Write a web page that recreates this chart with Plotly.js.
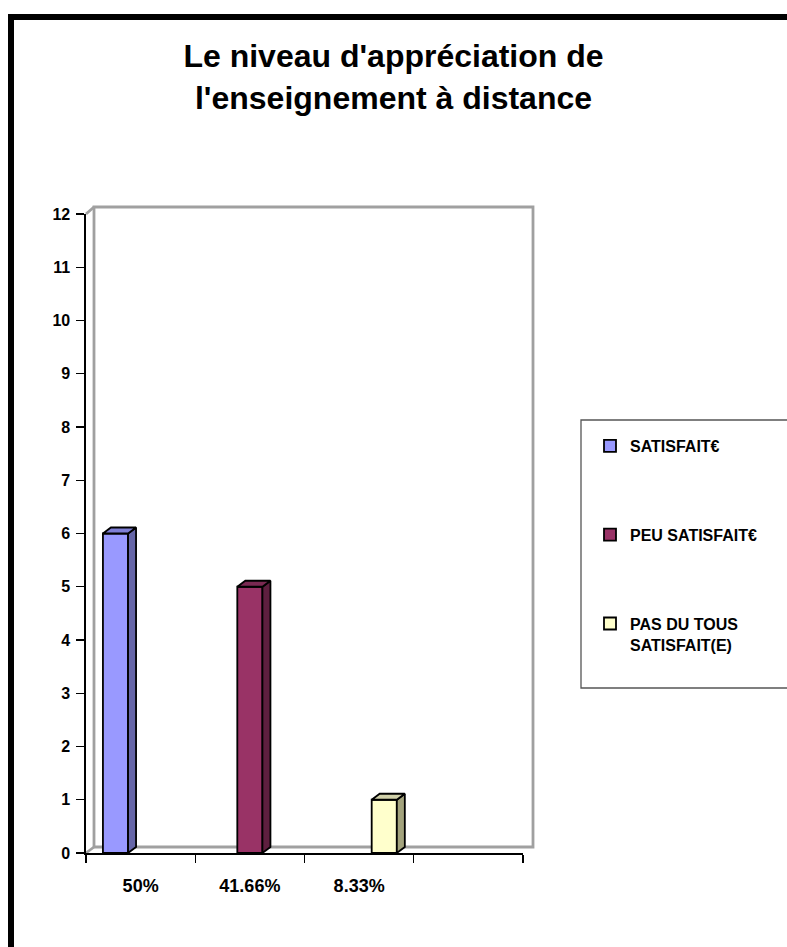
<!DOCTYPE html>
<html>
<head>
<meta charset="utf-8">
<script src="https://cdn.plot.ly/plotly-3.0.1.min.js"></script>
<style>
  html, body { margin:0; padding:0; background:#fff; overflow:hidden; }
  #wrap { position:relative; width:787px; height:947px; }
  #chart { position:absolute; left:0; top:0; width:787px; height:947px; }
  #frame { position:absolute; left:8px; top:14px; width:900px; height:1000px;
           border-left:6px solid #000; border-top:6px solid #000; pointer-events:none; }
</style>
</head>
<body>
<div id="wrap"><div id="chart"></div><div id="frame"></div></div>
<script>
// ---- data ----
const categories = ["50%", "41.66%", "8.33%", " "];
const seriesNames = ["SATISFAIT€", "PEU SATISFAIT€", "PAS DU TOUS<br>SATISFAIT(E)"];
const satisfait    = [6, null, null, null];
const peuSatisfait = [null, 5, null, null];
const pasDuTout    = [null, null, 1, null];
const yTicks = [0,1,2,3,4,5,6,7,8,9,10,11,12];
const chartTitle = "Le niveau d'appréciation de<br>l'enseignement à distance";

// ---- styling ----
const seriesValues = [satisfait, peuSatisfait, pasDuTout];
const frontColors = ["#9999FF", "#993366", "#FFFFCC"];
const sideColors  = ["#6666A8", "#5E1F3F", "#A3A37D"];
const topColors   = ["#7F7FD6", "#7A2952", "#D1D1AA"];

const W = 787, H = 947;
const M = {l:86, r:264, t:214, b:94};
const plotW = W - M.l - M.r, plotH = H - M.t - M.b;
const px = v => (v - M.l) / plotW;
const py = v => (H - M.b - v) / plotH;

const bargap = 0.31;
const nSeries = seriesValues.length;
const barW = (1 - bargap) / nSeries;
const yMax = 12;
const depthX = 8 / (plotW / categories.length);   // 8 px in category units
const depthY = 6 / (plotH / yMax);                // 6 px in value units

const traces = [];
seriesValues.forEach((vals, k) => {
  traces.push({
    type: 'bar', name: seriesNames[k], x: categories, y: vals,
    marker: {color: frontColors[k], line: {color: '#000', width: 1.8}},
    legendgroup: 'g' + k, hoverinfo: 'skip'
  });
});
// 3D faces (side & top) computed from the same values
seriesValues.forEach((vals, k) => {
  vals.forEach((v, i) => {
    if (v === null || v === undefined) return;
    const c = i + (k - (nSeries - 1) / 2) * barW;
    const xl = c - barW / 2, xr = c + barW / 2;
    traces.push({
      type: 'scatter', mode: 'lines', xaxis: 'x2', yaxis: 'y',
      x: [xr, xr + depthX, xr + depthX, xr, xr],
      y: [0, depthY, v + depthY, v, 0],
      fill: 'toself', fillcolor: sideColors[k],
      line: {color: '#000', width: 1.8}, showlegend: false, hoverinfo: 'skip'
    });
    traces.push({
      type: 'scatter', mode: 'lines', xaxis: 'x2', yaxis: 'y',
      x: [xl, xl + depthX, xr + depthX, xr, xl],
      y: [v, v + depthY, v + depthY, v, v],
      fill: 'toself', fillcolor: topColors[k],
      line: {color: '#000', width: 1.8}, showlegend: false, hoverinfo: 'skip'
    });
  });
});

const wallColor = '#A0A0A0';
const shapes = [
  {type:'rect', xref:'paper', yref:'paper', x0:px(94), x1:px(533), y0:py(847), y1:py(207),
   line:{color:wallColor, width:2.8}, fillcolor:'rgba(0,0,0,0)', layer:'below'},
  {type:'line', xref:'paper', yref:'paper', x0:px(86), y0:py(214), x1:px(94), y1:py(207),
   line:{color:wallColor, width:2.8}, layer:'below'},
  {type:'line', xref:'paper', yref:'paper', x0:px(86), y0:py(853), x1:px(94), y1:py(847),
   line:{color:wallColor, width:2.8}, layer:'below'},
  // legend box
  {type:'rect', xref:'paper', yref:'paper', x0:px(581), x1:px(810), y0:py(688), y1:py(420),
   line:{color:'#555', width:1.3}, fillcolor:'rgba(0,0,0,0)'}
];

const font = 'Liberation Sans, Arial, sans-serif';
const layout = {
  width: W, height: H,
  margin: M,
  paper_bgcolor: '#fff', plot_bgcolor: 'rgba(0,0,0,0)',
  barmode: 'group', bargap: bargap, bargroupgap: 0,
  title: {
    text: chartTitle, x: 0.5, xref: 'container', xanchor: 'center',
    y: 1 - 67 / H, yref: 'container', yanchor: 'middle',
    font: {family: font, size: 32, weight: 'bold', color: '#000'}
  },
  xaxis: {
    type: 'category', categoryorder: 'array', categoryarray: categories,
    range: [-0.5, categories.length - 0.5],
    showline: true, linecolor: '#000', linewidth: 1.6,
    ticks: 'outside', tickson: 'boundaries', ticklen: 8, tickcolor: '#000', tickwidth: 1.3,
    showgrid: false, zeroline: false, ticklabelstandoff: 16,
    tickfont: {family: font, size: 18, weight: 'bold', color: '#000'}
  },
  xaxis2: {
    type: 'linear', overlaying: 'x', anchor: 'y',
    range: [-0.5, categories.length - 0.5], visible: false
  },
  yaxis: {
    range: [0, yMax], tickvals: yTicks,
    showline: true, linecolor: '#000', linewidth: 1.6,
    ticks: 'outside', ticklen: 8, tickcolor: '#000', tickwidth: 1.3,
    showgrid: false, zeroline: false, ticklabelstandoff: 3,
    tickfont: {family: font, size: 16, weight: 'bold', color: '#000'}
  },
  showlegend: true,
  legend: {
    x: px(590), xanchor: 'left', y: py(429), yanchor: 'top',
    xref: 'paper', yref: 'paper',
    bgcolor: 'rgba(0,0,0,0)', borderwidth: 0,
    traceorder: 'grouped', tracegroupgap: 65, valign: 'top', itemwidth: 30,
    font: {family: font, size: 16, weight: 'bold', color: '#000'}
  },
  shapes: shapes,
  hovermode: false
};

Plotly.newPlot('chart', traces, layout, {displayModeBar: false, staticPlot: true});
</script>
</body>
</html>
